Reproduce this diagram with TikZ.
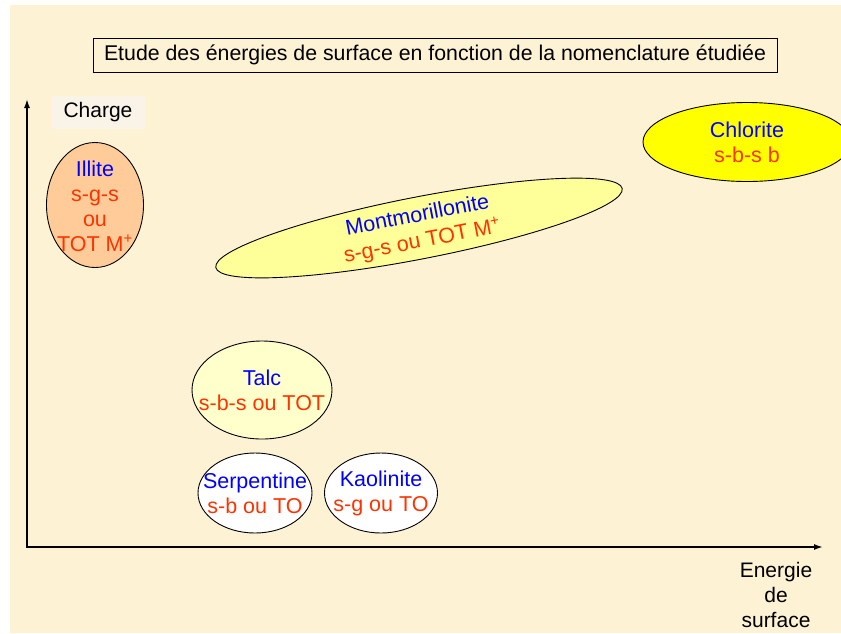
\documentclass[tikz,border=0pt]{standalone}
\usepackage{fontspec}
\setmainfont{Liberation Sans}
\usetikzlibrary{shapes.geometric,arrows.meta}
\definecolor{parch}{RGB}{253,242,212}
\definecolor{chargebg}{RGB}{250,244,232}
\definecolor{tblue}{RGB}{0,0,255}
\definecolor{tred}{RGB}{255,51,0}
\definecolor{illitefill}{RGB}{255,204,153}
\definecolor{montfill}{RGB}{255,255,153}
\definecolor{chlfill}{RGB}{255,255,0}
\definecolor{talcfill}{RGB}{255,255,204}
\tikzset{
  mineral/.style={ellipse, draw=black, line width=0.9pt, inner sep=0pt},
  mtext/.style={align=center, inner sep=0pt, font=\fontsize{21.5}{25}\selectfont},
  axis/.style={line width=1.6pt, -{Latex[length=9pt,width=6pt]}},
  lbl/.style={font=\fontsize{21}{25}\selectfont, align=center, inner sep=0pt}
}
\begin{document}
\begin{tikzpicture}[x=1pt,y=-1pt]
\useasboundingbox (0,0) rectangle (841,633);
\clip (0,0) rectangle (841,633);
\fill[white] (0,0) rectangle (841,633);
\fill[parch] (10,5) rectangle (841,633);
% title
\node[draw=black, line width=0.9pt, minimum width=684pt, minimum height=34pt, inner sep=0pt,
  font=\fontsize{21.3}{25}\selectfont] (title) at (435,55) {Etude des énergies de surface en fonction de la nomenclature étudiée};
% axes
\coordinate (origin) at (27,547);
\coordinate (ytop) at (27,99);
\coordinate (xend) at (823,547);
\draw[axis] (origin) -- (ytop);
\draw[axis] ([xshift=-0.8pt]origin) -- (xend);
% axis labels
\node[fill=chargebg, minimum width=93pt, minimum height=33pt, inner sep=0pt,
  font=\fontsize{21}{25}\selectfont] (charge) at (98,112) {Charge};
\node[lbl] (energie) at (776,595) {Energie\\de\\surface};
% minerals
\node[mineral, fill=illitefill, minimum width=97pt, minimum height=125pt] (illite) at (95,205) {};
\node[mtext] (illitet) at (95,206)
  {\textcolor{tblue}{Illite}\\\textcolor{tred}{s-g-s}\\\textcolor{tred}{ou}\\\textcolor{tred}{TOT M\textsuperscript{+}}};
\node[mineral, fill=montfill, minimum width=414pt, minimum height=62pt, rotate=11] (mont) at (419,228) {};
\node[mtext, rotate=11, font=\fontsize{21.5}{26}\selectfont] (montt) at (420,229)
  {\textcolor{tblue}{Montmorillonite}\\\textcolor{tred}{s-g-s ou TOT M\textsuperscript{+}}};
\node[mineral, fill=chlfill, minimum width=208pt, minimum height=79pt] (chlorite) at (747,142) {};
\node[mtext] (chloritet) at (chlorite.center)
  {\textcolor{tblue}{Chlorite}\\\textcolor{tred}{s-b-s b}};
\node[mineral, fill=talcfill, minimum width=140pt, minimum height=98pt] (talc) at (262,390) {};
\node[mtext] (talct) at (talc.center)
  {\textcolor{tblue}{Talc}\\\textcolor{tred}{s-b-s ou TOT}};
\node[mineral, fill=white, minimum width=114pt, minimum height=80pt] (serp) at (255,493) {};
\node[mtext] (serpt) at (serp.center)
  {\textcolor{tblue}{Serpentine}\\\textcolor{tred}{s-b ou TO}};
\node[mineral, fill=white, minimum width=113pt, minimum height=80pt] (kaol) at (381,493) {};
\node[mtext] (kaolt) at (kaol.center)
  {\textcolor{tblue}{Kaolinite}\\\textcolor{tred}{s-g ou TO}};
\end{tikzpicture}
\end{document}
